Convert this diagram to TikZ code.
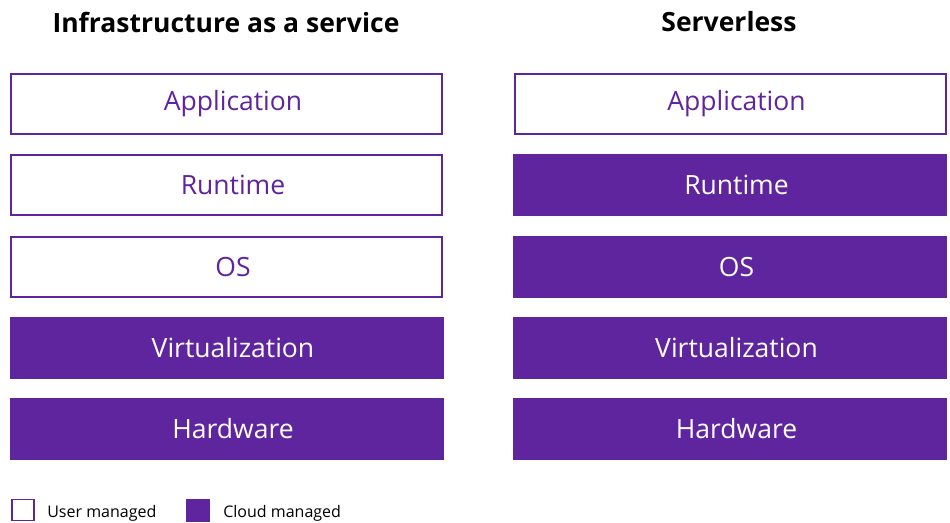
\documentclass[tikz,border=0pt]{standalone}
\usepackage{fontspec}
\setmainfont{Open Sans}
\usetikzlibrary{positioning}
\definecolor{cloudpurple}{RGB}{95,37,159}

\begin{document}
\begin{tikzpicture}[x=1pt, y=-1pt,
    layer/.style={draw=cloudpurple, inner sep=0pt, font=\fontsize{26.5}{30}\selectfont,
      execute at begin node=\hspace*{13pt}},
    user/.style={layer, fill=white, text=cloudpurple, line width=2pt,
      minimum width=431pt, minimum height=60pt},
    cloud/.style={layer, fill=cloudpurple, text=white, line width=0.6pt,
      minimum width=433pt, minimum height=61.4pt},
    heading/.style={font=\fontsize{26.5}{30}\selectfont\bfseries},
    legend/.style={draw=cloudpurple, line width=1.6pt, minimum width=22pt, minimum height=21pt, inner sep=0pt},
    legendtext/.style={font=\fontsize{16}{19}\selectfont, anchor=west, yshift=-3pt}]
    \useasboundingbox (0,0) rectangle (950,522);

    % Headings
    \node[heading] (iaas) at (226,22) {Infrastructure as a service};
    \node[heading] (srvl) at (729,22) {Serverless};

    % Infrastructure as a service stack
    \node[user] (iaas-app) at (226.5,104) {Application};
    \node[user] (iaas-run) at (226.5,185) {Runtime};
    \node[user] (iaas-os) at (226.5,267) {OS};
    \node[cloud] (iaas-virt) at (226.5,348) {Virtualization};
    \node[cloud] (iaas-hw) at (226.5,429) {Hardware};

    % Serverless stack
    \node[user] (srvl-app) at (730,104) {Application};
    \node[cloud] (srvl-run) at (730,185) {Runtime};
    \node[cloud] (srvl-os) at (730,267) {OS};
    \node[cloud] (srvl-virt) at (730,348) {Virtualization};
    \node[cloud] (srvl-hw) at (730,429) {Hardware};

    % Legend
    \node[legend, fill=white] (key-user) at (23,510) {};
    \node[legendtext, right=9pt of key-user] (key-user-text) {User managed};
    \node[legend, fill=cloudpurple, draw=none, minimum width=24pt, minimum height=23pt] (key-cloud) at (198,510) {};
    \node[legendtext, right=9pt of key-cloud] (key-cloud-text) {Cloud managed};
\end{tikzpicture}
\end{document}
